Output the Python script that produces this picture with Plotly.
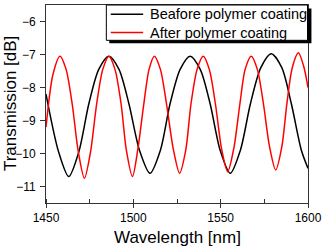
import plotly.graph_objects as go

# Data
wl_before = [1450, 1457.2, 1463, 1468.8, 1474.5, 1480.2, 1486, 1491.8, 1497.5, 1503.5,
             1509.5, 1515.5, 1521, 1526.8, 1532.5, 1538.3, 1544, 1549.7, 1555.5, 1561.3,
             1567, 1573, 1579, 1585, 1590.5, 1596.2, 1600]
tr_before = [-8.2, -9.95, -10.7, -9.95, -8.5, -7.45, -7.05, -7.45, -8.5, -9.9,
             -10.6, -9.9, -8.5, -7.45, -7.05, -7.45, -8.5, -9.9, -10.6, -9.9,
             -8.5, -7.4, -6.98, -7.4, -8.5, -9.9, -10.45]

wl_after = [1450, 1454, 1458, 1461.5, 1465, 1468.5, 1472, 1475.5, 1479, 1482.5,
            1486, 1489.5, 1493, 1496, 1499.5, 1502.5, 1506, 1509, 1512, 1515.5,
            1519, 1523, 1526.5, 1530, 1533, 1536.5, 1540, 1543.5, 1547, 1550.5,
            1554, 1557.5, 1561, 1564, 1567.5, 1571, 1574.5, 1578, 1581.5, 1585,
            1588, 1591, 1594.5, 1597.5, 1600]
tr_after = [-9.2, -7.6, -7.05, -7.45, -8.5, -9.95, -10.75, -9.95, -8.5, -7.45,
            -7.05, -7.45, -8.5, -9.9, -10.7, -9.9, -8.5, -7.45, -7.05, -7.45,
            -8.5, -9.9, -10.6, -9.9, -8.5, -7.45, -7.05, -7.45, -8.5, -9.85,
            -10.55, -9.85, -8.5, -7.45, -7.05, -7.45, -8.5, -9.8, -10.5, -9.8,
            -8.45, -7.4, -6.95, -7.35, -8.0]

x_ticks = [1450, 1500, 1550, 1600]
y_ticks = [-11, -10, -9, -8, -7, -6]
names = ["Beafore polymer coating", "After polymer coating"]
colors = ["black", "#ff0000"]

FONT = "Liberation Sans, Arial, sans-serif"

fig = go.Figure()
fig.add_trace(go.Scatter(x=wl_before, y=tr_before, mode="lines", name=names[0],
                         line=dict(color=colors[0], width=1.5, shape="spline", smoothing=0.8)))
fig.add_trace(go.Scatter(x=wl_after, y=tr_after, mode="lines", name=names[1],
                         line=dict(color=colors[1], width=1.5, shape="spline", smoothing=0.8)))

axis_common = dict(showline=True, linecolor="#333", linewidth=1, mirror=True,
                   showgrid=False, zeroline=False, ticks="outside", tickcolor="#333",
                   ticklabeloverflow="allow",
                   tickfont=dict(family=FONT, size=12, color="black"))

fig.update_xaxes(range=[1450, 1600], tickvals=x_ticks, ticklen=4,
                 minor=dict(ticks="inside", ticklen=4, dtick=25, tick0=1450, tickcolor="#333"),
                 **axis_common)
fig.update_yaxes(range=[-11.5, -5.5], tickvals=y_ticks, ticklen=5,
                 ticklabelstandoff=2, **axis_common)

# Hand-drawn legend box (with drop shadow) in paper coordinates
shapes = [
    dict(type="rect", xref="paper", yref="paper", x0=0.2416, x1=1.0131, y0=0.8065, y1=0.9824,
         fillcolor="black", line=dict(width=0), layer="above"),
    dict(type="rect", xref="paper", yref="paper", x0=0.2303, x1=0.9981, y0=0.8216, y1=1.0,
         fillcolor="white", line=dict(color="black", width=1), layer="above"),
]
leg_y = [0.9533, 0.8608]
annotations = []
for name, col, yy in zip(names, colors, leg_y):
    shapes.append(dict(type="line", xref="paper", yref="paper", x0=0.2472, x1=0.3708,
                       y0=yy, y1=yy, line=dict(color=col, width=1.5), layer="above"))
    annotations.append(dict(text=name, xref="paper", yref="paper", x=0.3895, y=yy,
                            xanchor="left", yanchor="middle", showarrow=False,
                            font=dict(family=FONT, size=14.5, color="black")))

annotations += [
    dict(text="Wavelength [nm]", xref="paper", yref="paper", x=0.5, y=-0.175,
         xanchor="center", yanchor="middle", showarrow=False,
         font=dict(family=FONT, size=17, color="black")),
    dict(text="Transmission [dB]", xref="paper", yref="paper", x=-0.137, y=0.5,
         xanchor="center", yanchor="middle", showarrow=False, textangle=-90,
         font=dict(family=FONT, size=17, color="black")),
]

fig.update_layout(
    width=326, height=250,
    margin=dict(l=46, r=13, t=4, b=47),
    paper_bgcolor="white", plot_bgcolor="white",
    font=dict(family=FONT, color="black"),
    showlegend=False,
    shapes=shapes,
    annotations=annotations,
)

fig.write_html("out.html")
